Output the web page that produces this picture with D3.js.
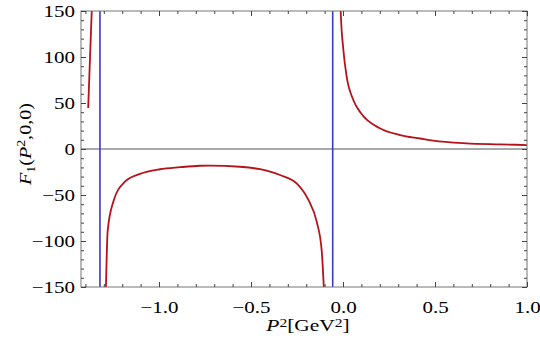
<!DOCTYPE html>
<html>
<head>
<meta charset="utf-8">
<script src="https://cdn.jsdelivr.net/npm/d3@7"></script>
<style>
  body { margin: 0; background: #fff; }
  svg { display: block; }
  text { font-family: "Liberation Serif", "Times New Roman", serif; }
</style>
</head>
<body>
<svg></svg>
<script>
// data
let p2Left = [-1.385, -1.362]
let f1Left = [44.5, 170]

let p2Mid = [-1.290, -1.279, -1.248, -1.185, -1.103, -0.995, -0.886, -0.777, -0.723, -0.560, -0.451, -0.342, -0.252, -0.188, -0.143, -0.116, -0.102]
let f1Mid = [-165, -89, -57, -35.5, -27, -22, -19.8, -18.2, -18, -19.3, -22, -28.3, -37.3, -55.4, -79, -110, -160]

let p2Right = [-0.0135, -0.0125, 0.002, 0.020, 0.056, 0.098, 0.200, 0.310, 0.420, 0.490, 0.670, 0.853, 1.000]
let f1Right = [165, 150, 107.6, 78.6, 53.3, 38.8, 22.5, 15.2, 11.4, 9.1, 6.2, 5.1, 4.3]

let poles = [-1.321, -0.056]

let xTicks = [-1.0, -0.5, 0.0, 0.5, 1.0]
let yTicks = [-150, -100, -50, 0, 50, 100, 150]

let width = 540
let height = 349
let padLeft = 81, padRight = 527, padTop = 11, padBottom = 287
let stretch = 1.2

let svg = d3.select('svg').attr('width', width).attr('height', height)

let x = d3.scaleLinear().domain([-1.424, 1.0]).range([padLeft, padRight])
let y = d3.scaleLinear().domain([-150, 150]).range([padBottom, padTop])

let xMinor = d3.range(-14, 11).map(d => d / 10).filter(d => xTicks.indexOf(d) < 0)
let yMinor = d3.range(-15, 16).map(d => d * 10).filter(d => yTicks.indexOf(d) < 0)

svg.append('defs').append('clipPath').attr('id', 'plot')
   .append('rect')
   .attr('x', padLeft).attr('y', padTop)
   .attr('width', padRight - padLeft).attr('height', padBottom - padTop)

// zero line
svg.append('line')
   .attr('x1', padLeft).attr('x2', padRight)
   .attr('y1', y(0)).attr('y2', y(0))
   .attr('stroke', '#555').attr('stroke-width', 1)

// vertical lines at the poles
svg.selectAll('.pole')
   .data(poles)
   .enter()
   .append('line')
   .attr('class', 'pole')
   .attr('x1', d => x(d)).attr('x2', d => x(d))
   .attr('y1', padTop).attr('y2', padBottom)
   .attr('stroke', '#3a3ac4').attr('stroke-width', 1.6)

let straight = d3.line().x(d => x(d[0])).y(d => y(d[1]))
let smooth = d3.line().x(d => x(d[0])).y(d => y(d[1])).curve(d3.curveMonotoneX)
let pieces = [
    {pts: d3.zip(p2Left, f1Left), gen: straight},
    {pts: d3.zip(p2Mid, f1Mid), gen: smooth},
    {pts: d3.zip(p2Right, f1Right), gen: smooth}
]
svg.append('g').attr('clip-path', 'url(#plot)')
   .selectAll('path')
   .data(pieces)
   .enter()
   .append('path')
   .attr('d', d => d.gen(d.pts))
   .attr('fill', 'none')
   .attr('stroke', '#b5121b')
   .attr('stroke-width', 1.8)
   .attr('stroke-linejoin', 'round')

// frame
svg.append('rect')
   .attr('x', padLeft).attr('y', padTop)
   .attr('width', padRight - padLeft).attr('height', padBottom - padTop)
   .attr('fill', 'none').attr('stroke', '#777').attr('stroke-width', 1)

let tickStyle = g => {
    g.select('.domain').remove()
    g.selectAll('line').attr('stroke', '#444')
}

// major and minor ticks on all four sides, pointing inward
svg.append('g').attr('transform', 'translate(0,' + padBottom + ')')
   .call(d3.axisBottom(x).tickValues(xTicks).tickSize(-5).tickFormat(d3.format('.1f')))
   .call(tickStyle)
   .call(g => g.selectAll('text')
       .attr('y', 0).attr('dy', 0)
       .attr('transform', 'translate(0,25.5) scale(' + stretch + ',1)')
       .attr('font-size', 17.5).attr('fill', '#000'))
svg.append('g').attr('transform', 'translate(0,' + padBottom + ')')
   .call(d3.axisBottom(x).tickValues(xMinor).tickSize(-3).tickFormat(''))
   .call(tickStyle)
svg.append('g').attr('transform', 'translate(0,' + padTop + ')')
   .call(d3.axisTop(x).tickValues(xTicks).tickSize(-5).tickFormat(''))
   .call(tickStyle)
svg.append('g').attr('transform', 'translate(0,' + padTop + ')')
   .call(d3.axisTop(x).tickValues(xMinor).tickSize(-3).tickFormat(''))
   .call(tickStyle)

svg.append('g').attr('transform', 'translate(' + padLeft + ',0)')
   .call(d3.axisLeft(y).tickValues(yTicks).tickSize(-5).tickFormat(d3.format('d')))
   .call(tickStyle)
   .call(g => g.selectAll('text')
       .attr('x', 0).attr('dy', '0.34em')
       .attr('transform', 'translate(-6,0) scale(' + stretch + ',1)')
       .attr('font-size', 17.5).attr('fill', '#000'))
svg.append('g').attr('transform', 'translate(' + padLeft + ',0)')
   .call(d3.axisLeft(y).tickValues(yMinor).tickSize(-3).tickFormat(''))
   .call(tickStyle)
svg.append('g').attr('transform', 'translate(' + padRight + ',0)')
   .call(d3.axisRight(y).tickValues(yTicks).tickSize(-5).tickFormat(''))
   .call(tickStyle)
svg.append('g').attr('transform', 'translate(' + padRight + ',0)')
   .call(d3.axisRight(y).tickValues(yMinor).tickSize(-3).tickFormat(''))
   .call(tickStyle)

// axis titles
let xTitle = svg.append('text')
   .attr('transform', 'translate(308,331) scale(1.3,1)')
   .attr('text-anchor', 'middle')
   .attr('font-size', 16.5)
xTitle.append('tspan').attr('font-style', 'italic').text('P')
xTitle.append('tspan').attr('font-size', 12).attr('dy', -4).text('2')
xTitle.append('tspan').attr('dy', 4).text('[GeV')
xTitle.append('tspan').attr('font-size', 12).attr('dy', -4).text('2')
xTitle.append('tspan').attr('dy', 4).text(']')

let yTitle = svg.append('text')
   .attr('transform', 'translate(31,144) rotate(-90) scale(1.15,1)')
   .attr('text-anchor', 'middle')
   .attr('font-size', 17.5)
yTitle.append('tspan').attr('font-style', 'italic').text('F')
yTitle.append('tspan').attr('font-size', 12).attr('dy', 4).text('1')
yTitle.append('tspan').attr('dy', -4).text('(')
yTitle.append('tspan').attr('font-style', 'italic').text('P')
yTitle.append('tspan').attr('font-size', 12).attr('dy', -6).text('2')
yTitle.append('tspan').attr('dy', 6).text(',0,0)')
</script>
</body>
</html>
